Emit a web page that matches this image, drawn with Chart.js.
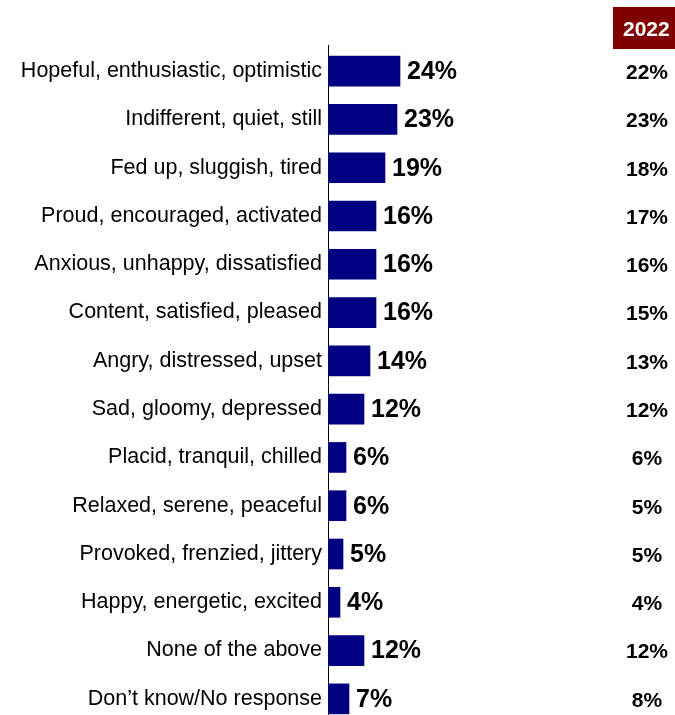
<!DOCTYPE html>
<html>
<head>
<meta charset="utf-8">
<script src="https://cdn.jsdelivr.net/npm/chart.js@4"></script>
<style>
html,body{margin:0;padding:0;background:#fff;overflow:hidden;}
#wrap{position:relative;width:675px;height:715px;overflow:hidden;}
</style>
</head>
<body>
<div id="wrap"><canvas id="c" width="675" height="723"></canvas></div>
<script>
const categories = [
  "Hopeful, enthusiastic, optimistic",
  "Indifferent, quiet, still",
  "Fed up, sluggish, tired",
  "Proud, encouraged, activated",
  "Anxious, unhappy, dissatisfied",
  "Content, satisfied, pleased",
  "Angry, distressed, upset",
  "Sad, gloomy, depressed",
  "Placid, tranquil, chilled",
  "Relaxed, serene, peaceful",
  "Provoked, frenzied, jittery",
  "Happy, energetic, excited",
  "None of the above",
  "Don\u2019t know/No response"
];
const values2024 = [24, 23, 19, 16, 16, 16, 14, 12, 6, 6, 5, 4, 12, 7];
const values2022 = [22, 23, 18, 17, 16, 15, 13, 12, 6, 5, 5, 4, 12, 8];
const compareLabel = "2022";

const valueLabels = {
  id: 'valueLabels',
  afterDatasetsDraw(chart) {
    const ctx = chart.ctx;
    const meta = chart.getDatasetMeta(0);
    ctx.save();
    const a = chart.chartArea;
    ctx.strokeStyle = '#000';
    ctx.lineWidth = 1;
    ctx.beginPath();
    ctx.moveTo(a.left + 0.5, a.top - 2);
    ctx.lineTo(a.left + 0.5, a.top + 1);
    ctx.stroke();

    ctx.font = 'bold 25px "Liberation Sans"';
    ctx.fillStyle = '#000';
    ctx.textBaseline = 'middle';
    ctx.textAlign = 'left';
    meta.data.forEach((bar, i) => {
      ctx.fillText(values2024[i] + '%', bar.x + 7, bar.y + 1);
    });
    // 2022 column
    const cx = 647;
    ctx.font = 'bold 21px "Liberation Sans"';
    ctx.textAlign = 'center';
    meta.data.forEach((bar, i) => {
      ctx.fillText(values2022[i] + '%', cx, bar.y + 2);
    });
    // header box
    ctx.fillStyle = '#800000';
    ctx.fillRect(613, 7, 62, 42);
    ctx.fillStyle = '#fff';
    ctx.font = 'bold 21px "Liberation Sans"';
    ctx.textAlign = 'left';
    ctx.fillText(compareLabel, 623, 30);
    ctx.restore();
  }
};

new Chart(document.getElementById('c'), {
  type: 'bar',
  data: {
    labels: categories,
    datasets: [{
      data: values2024,
      backgroundColor: '#000080',
      barThickness: 30
    }]
  },
  options: {
    indexAxis: 'y',
    responsive: false,
    animation: false,
    layout: { padding: { top: 47, right: 107, bottom: 0, left: 0 } },
    plugins: { legend: { display: false }, tooltip: { enabled: false } },
    scales: {
      x: {
        min: 0, max: 80,
        display: false
      },
      y: {
        afterFit(scale) { scale.width = 328; scale.paddingTop = 0; scale.paddingBottom = 0; },
        grid: { display: false, drawTicks: false },
        border: { display: true, color: '#000', width: 1 },
        ticks: {
          padding: 6,
          color: '#000',
          font: { family: '"Liberation Sans", Arial, sans-serif', size: 21.5 }
        }
      }
    }
  },
  plugins: [valueLabels]
});
</script>
</body>
</html>
